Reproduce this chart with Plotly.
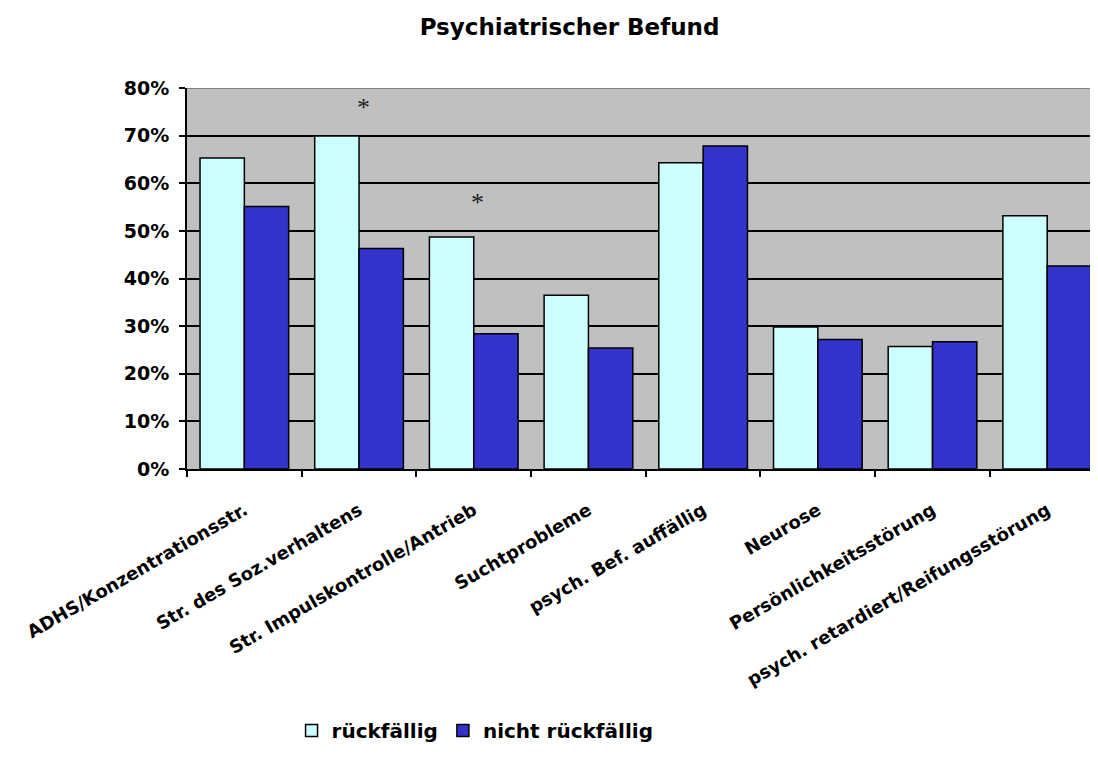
import plotly.graph_objects as go

# categories and values (share in %)
categories = [
    "ADHS/Konzentrationsstr.",
    "Str. des Soz.verhaltens",
    "Str. Impulskontrolle/Antrieb",
    "Suchtprobleme",
    "psych. Bef. auffällig",
    "Neurose",
    "Persönlichkeitsstörung",
    "psych. retardiert/Reifungsstörung",
]
rueckfaellig = [65.3, 69.9, 48.7, 36.5, 64.3, 29.8, 25.7, 53.2]
nicht_rueckfaellig = [55.1, 46.3, 28.4, 25.4, 67.8, 27.2, 26.7, 42.6]

# significance markers (category, y-position in %)
sig_categories = ["Str. des Soz.verhaltens", "Str. Impulskontrolle/Antrieb"]
sig_y = [76, 56]

y_ticks = [0, 10, 20, 30, 40, 50, 60, 70, 80]
y_ticktext = [f"{v}%" for v in y_ticks]

FONT = "DejaVu Sans, Arial, sans-serif"

fig = go.Figure()
fig.add_trace(go.Bar(
    x=categories, y=rueckfaellig, name="rückfällig",
    marker=dict(color="#CCFFFF", line=dict(color="#000000", width=1.5)),
))
fig.add_trace(go.Bar(
    x=categories, y=nicht_rueckfaellig, name="nicht rückfällig",
    marker=dict(color="#3333CC", line=dict(color="#000000", width=1.5)),
))

for cat, yv in zip(sig_categories, sig_y):
    fig.add_annotation(
        x=cat, y=yv, text="*", showarrow=False, xshift=4,
        font=dict(family="Liberation Serif, Times New Roman, serif", size=26, color="#222222"),
    )

# grey top border of the plot area
fig.add_shape(
    type="line", xref="paper", yref="y", x0=0, x1=1, y0=80, y1=80,
    line=dict(color="#808080", width=2), layer="above",
)

# the page body has an 8px margin, so the figure is a bit smaller than the window
fig.update_layout(
    width=1082, height=742,
    paper_bgcolor="white",
    plot_bgcolor="#C0C0C0",
    barmode="group",
    bargap=0.227,
    bargroupgap=0,
    margin=dict(l=179, r=0, t=80, b=281, autoexpand=False),
    title=dict(
        text="Psychiatrischer Befund",
        x=0.519, xref="container", xanchor="center",
        y=1 - 19 / 742, yref="container", yanchor="middle",
        font=dict(family=FONT, size=23, color="#000000", weight="bold"),
    ),
    font=dict(family=FONT, color="#000000"),
    xaxis=dict(
        type="category",
        range=[-0.5, 7.373],
        tickangle=-30,
        tickson="boundaries",
        ticks="outside", ticklen=6, tickwidth=1.5, tickcolor="#000000",
        showline=True, linecolor="#000000", linewidth=2,
        showgrid=False,
        automargin=False,
        ticklabelstandoff=22,
        tickfont=dict(family=FONT, size=18, color="#000000", weight="bold"),
    ),
    yaxis=dict(
        range=[0, 80],
        tickmode="array",
        tickvals=y_ticks,
        ticktext=y_ticktext,
        ticks="outside", ticklen=6, tickwidth=1.5, tickcolor="#000000",
        showline=True, linecolor="#000000", linewidth=2,
        showgrid=True, gridcolor="#000000", gridwidth=1.5,
        zeroline=False,
        automargin=False,
        ticklabelstandoff=6,
        tickfont=dict(family=FONT, size=19, color="#000000", weight="bold"),
    ),
    showlegend=True,
    legend=dict(
        orientation="h",
        x=0.319, xanchor="center",
        yref="container", y=-0.01, yanchor="bottom",
        itemwidth=30,
        font=dict(family=FONT, size=20, color="#000000", weight="bold"),
        bgcolor="rgba(0,0,0,0)",
    ),
)

fig.write_html("out.html")
